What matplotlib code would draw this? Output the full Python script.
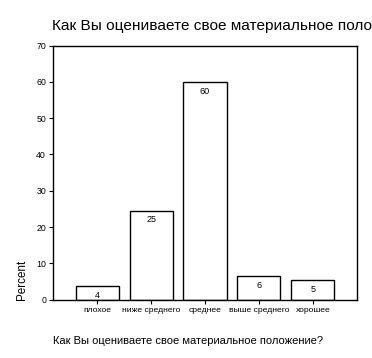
import matplotlib
matplotlib.use("Agg")
import matplotlib.pyplot as plt

categories = ["плохое", "ниже среднего", "среднее", "выше среднего", "хорошее"]
values = [3.7, 24.4, 59.9, 6.4, 5.3]
labels = ["4", "25", "60", "6", "5"]
yticks = [0, 10, 20, 30, 40, 50, 60, 70]

plt.rcParams['font.family'] = ['Liberation Sans', 'DejaVu Sans']

fig = plt.figure(figsize=(3.72, 3.58), dpi=100)
W, H = 372, 358
ax = fig.add_axes([53 / W, 1 - 299.6 / H, (357 - 53) / W, (299.6 - 45.6) / H])

x = list(range(len(categories)))
bars = ax.bar(x, values, width=0.8, color="white", edgecolor="black", linewidth=1)
for xi, v, lab in zip(x, values, labels):
    ax.text(xi, v - 1.2, lab, ha="center", va="top", fontsize=6.5)

ax.set_xlim(-0.82, 4.82)
ax.set_ylim(0, 70)
ax.set_yticks(yticks)
ax.set_yticklabels([str(t) for t in yticks], fontsize=6.3)
ax.set_xticks(x)
ax.set_xticklabels(categories, fontsize=6.1)
ax.tick_params(axis="both", direction="out", length=3, width=0.8, pad=2)
for s in ax.spines.values():
    s.set_linewidth(1)

fig.text(22 / W, 1 - 300 / H, "Percent", rotation=90, ha="center", va="bottom", fontsize=8.4)
fig.text(53 / W, 1 - 341 / H, "Как Вы оцениваете свое материальное положение?",
         ha="left", va="center", fontsize=8.0)
fig.text(52 / W, 1 - 30 / H, "Как Вы оцениваете свое материальное положение?",
         ha="left", va="baseline", fontsize=11.1)

fig.savefig("out.png", dpi=100)
